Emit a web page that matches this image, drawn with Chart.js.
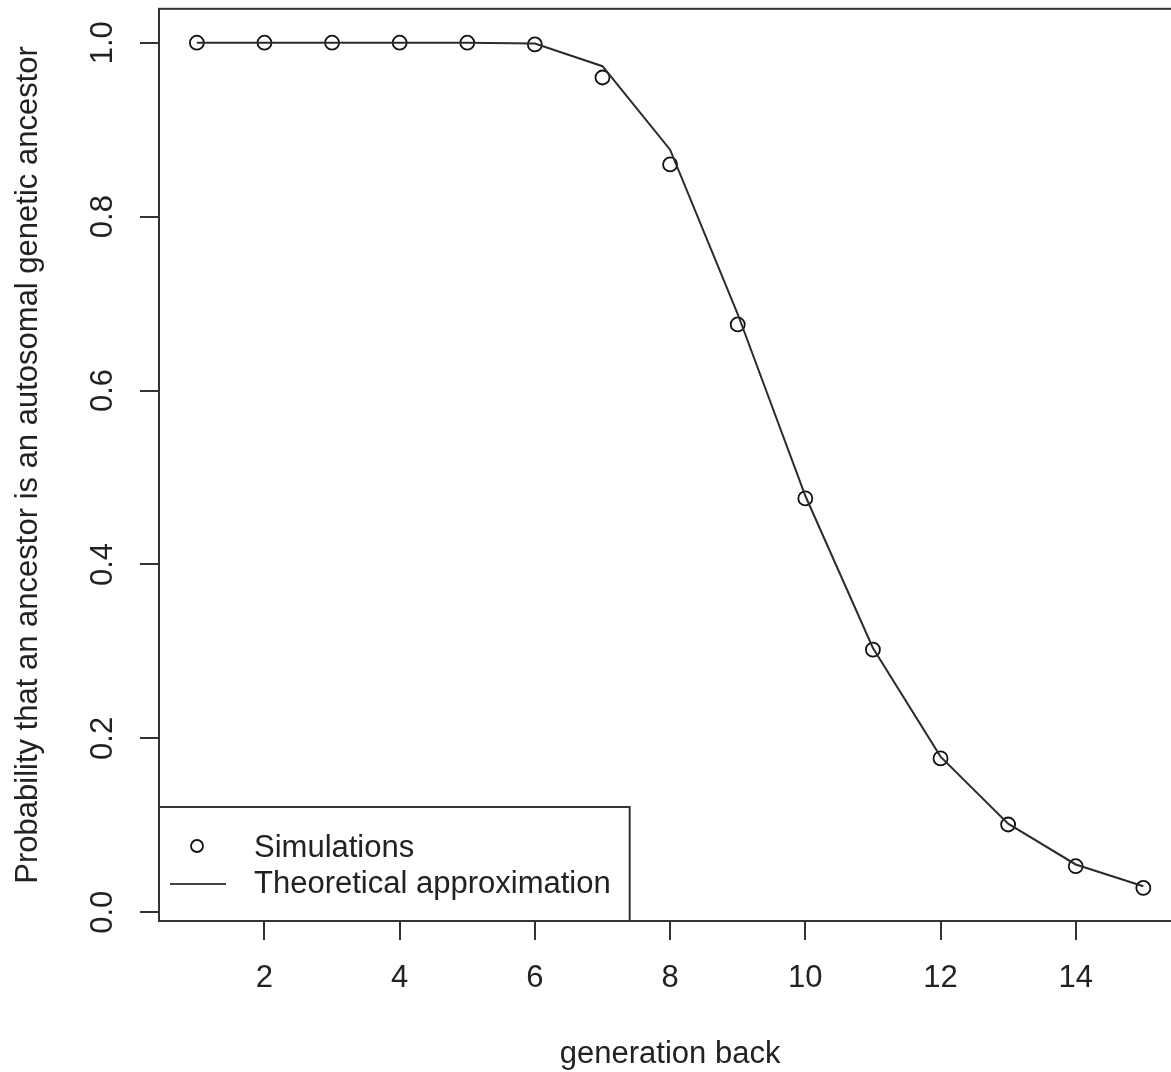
<!DOCTYPE html>
<html lang="en">
<head>
  <meta charset="UTF-8">
  <title>Autosomal genetic ancestors</title>
  <script src="https://cdn.jsdelivr.net/npm/chart.js"></script>
  <style>
    html, body { margin: 0; padding: 0; overflow: hidden; background: #fff; }
    #wrap { width: 1190px; height: 1072px; }
  </style>
</head>
<body>
<div id="wrap"><canvas id="chart" width="1190" height="1072"></canvas></div>

<script>
  // values
  const generations = [1, 2, 3, 4, 5, 6, 7, 8, 9, 10, 11, 12, 13, 14, 15];
  const simulated   = [1.000, 1.000, 1.000, 1.000, 1.000, 0.998, 0.960, 0.860, 0.676, 0.476, 0.302, 0.177, 0.101, 0.053, 0.028];
  const theoretical = [1.000, 1.000, 1.000, 1.000, 1.000, 0.999, 0.973, 0.877, 0.688, 0.479, 0.304, 0.179, 0.102, 0.055, 0.030];

  const xTicks = [2, 4, 6, 8, 10, 12, 14];
  const yTicks = [0, 0.2, 0.4, 0.6, 0.8, 1.0];
  const yTickLabels = ['0.0', '0.2', '0.4', '0.6', '0.8', '1.0'];
  const legendLabels = ['Simulations', 'Theoretical approximation'];

  const FAMILY = '"Liberation Sans", Arial, Helvetica, sans-serif';
  const FONT = '31px ' + FAMILY;
  const INK = '#222';

  // box, rotated y labels and the bottom-left legend, R style
  const rFrame = {
    id: 'rFrame',
    afterDraw(chart) {
      const { ctx, chartArea: a, scales: { y } } = chart;
      ctx.save();
      ctx.strokeStyle = '#333';
      ctx.lineWidth = 2;
      ctx.strokeRect(a.left, a.top, a.right - a.left, a.bottom - a.top);

      ctx.fillStyle = INK;
      ctx.font = FONT;
      ctx.textAlign = 'center';
      ctx.textBaseline = 'middle';
      y.ticks.forEach((t, i) => {
        ctx.save();
        ctx.translate(a.left - 56, y.getPixelForValue(t.value));
        ctx.rotate(-Math.PI / 2);
        ctx.fillText(yTickLabels[i], 0, 0);
        ctx.restore();
      });

      // legend
      const textX = a.left + 95;
      const w = Math.max(...legendLabels.map(s => ctx.measureText(s).width));
      const boxTop = a.bottom - 114;
      const boxW = textX + w + 19 - a.left;
      ctx.fillStyle = '#fff';
      ctx.fillRect(a.left, boxTop, boxW, a.bottom - boxTop);
      ctx.strokeStyle = '#333';
      ctx.lineWidth = 2;
      ctx.strokeRect(a.left, boxTop, boxW, a.bottom - boxTop);

      const row1 = a.bottom - 73, row2 = a.bottom - 37;
      ctx.lineWidth = 1.8;
      ctx.strokeStyle = '#111';
      ctx.beginPath();
      ctx.arc(a.left + 38, row1 - 2, 6, 0, Math.PI * 2);
      ctx.stroke();
      ctx.strokeStyle = '#444';
      ctx.lineWidth = 2;
      ctx.beginPath();
      ctx.moveTo(a.left + 11, row2);
      ctx.lineTo(a.left + 67, row2);
      ctx.stroke();

      ctx.fillStyle = INK;
      ctx.textAlign = 'left';
      ctx.fillText(legendLabels[0], textX, row1);
      ctx.fillText(legendLabels[1], textX, row2);
      ctx.restore();
    }
  };

  const chart = new Chart(document.getElementById('chart').getContext('2d'), {
    type: 'scatter',
    data: {
      datasets: [
        {
          label: legendLabels[1],
          data: generations.map((g, i) => ({ x: g, y: theoretical[i] })),
          showLine: true,
          borderColor: '#2b2b2b',
          borderWidth: 2,
          pointRadius: 0,
          tension: 0,
        },
        {
          label: legendLabels[0],
          data: generations.map((g, i) => ({ x: g, y: simulated[i] })),
          showLine: false,
          borderColor: '#111',
          backgroundColor: 'rgba(0,0,0,0)',
          borderWidth: 1.8,
          pointRadius: 7,
          pointStyle: 'circle',
        },
      ],
    },
    options: {
      responsive: false,
      animation: false,
      layout: { padding: { top: 7, right: 4, left: 0, bottom: 0 } },
      plugins: {
        legend: { display: false },
        tooltip: { enabled: false },
      },
      scales: {
        x: {
          type: 'linear',
          min: 0.44,
          max: 15.56,
          afterBuildTicks: (s) => { s.ticks = xTicks.map(v => ({ value: v })); },
          afterFit: (s) => { s.height = 151; },
          grid: { drawOnChartArea: false, drawTicks: true, tickLength: 19, color: '#333', lineWidth: 2 },
          border: { display: false },
          ticks: { color: INK, font: { family: FAMILY, size: 31, lineHeight: 1 }, padding: 23, maxRotation: 0 },
          title: {
            display: true,
            text: 'generation back',
            color: INK,
            font: { family: FAMILY, size: 31, lineHeight: 1 },
            padding: { top: 0, bottom: 2 },
          },
        },
        y: {
          type: 'linear',
          min: -0.010,
          max: 1.039,
          afterBuildTicks: (s) => { s.ticks = yTicks.map(v => ({ value: v })); },
          afterFit: (s) => { s.width = 159; },
          grid: { drawOnChartArea: false, drawTicks: true, tickLength: 19, color: '#333', lineWidth: 2 },
          border: { display: false },
          ticks: { display: false },
          title: {
            display: true,
            text: 'Probability that an ancestor is an autosomal genetic ancestor',
            color: INK,
            font: { family: FAMILY, size: 31, lineHeight: 1 },
            padding: { top: 13, bottom: 0 },
          },
        },
      },
    },
    plugins: [rFrame],
  });
</script>
</body>
</html>
